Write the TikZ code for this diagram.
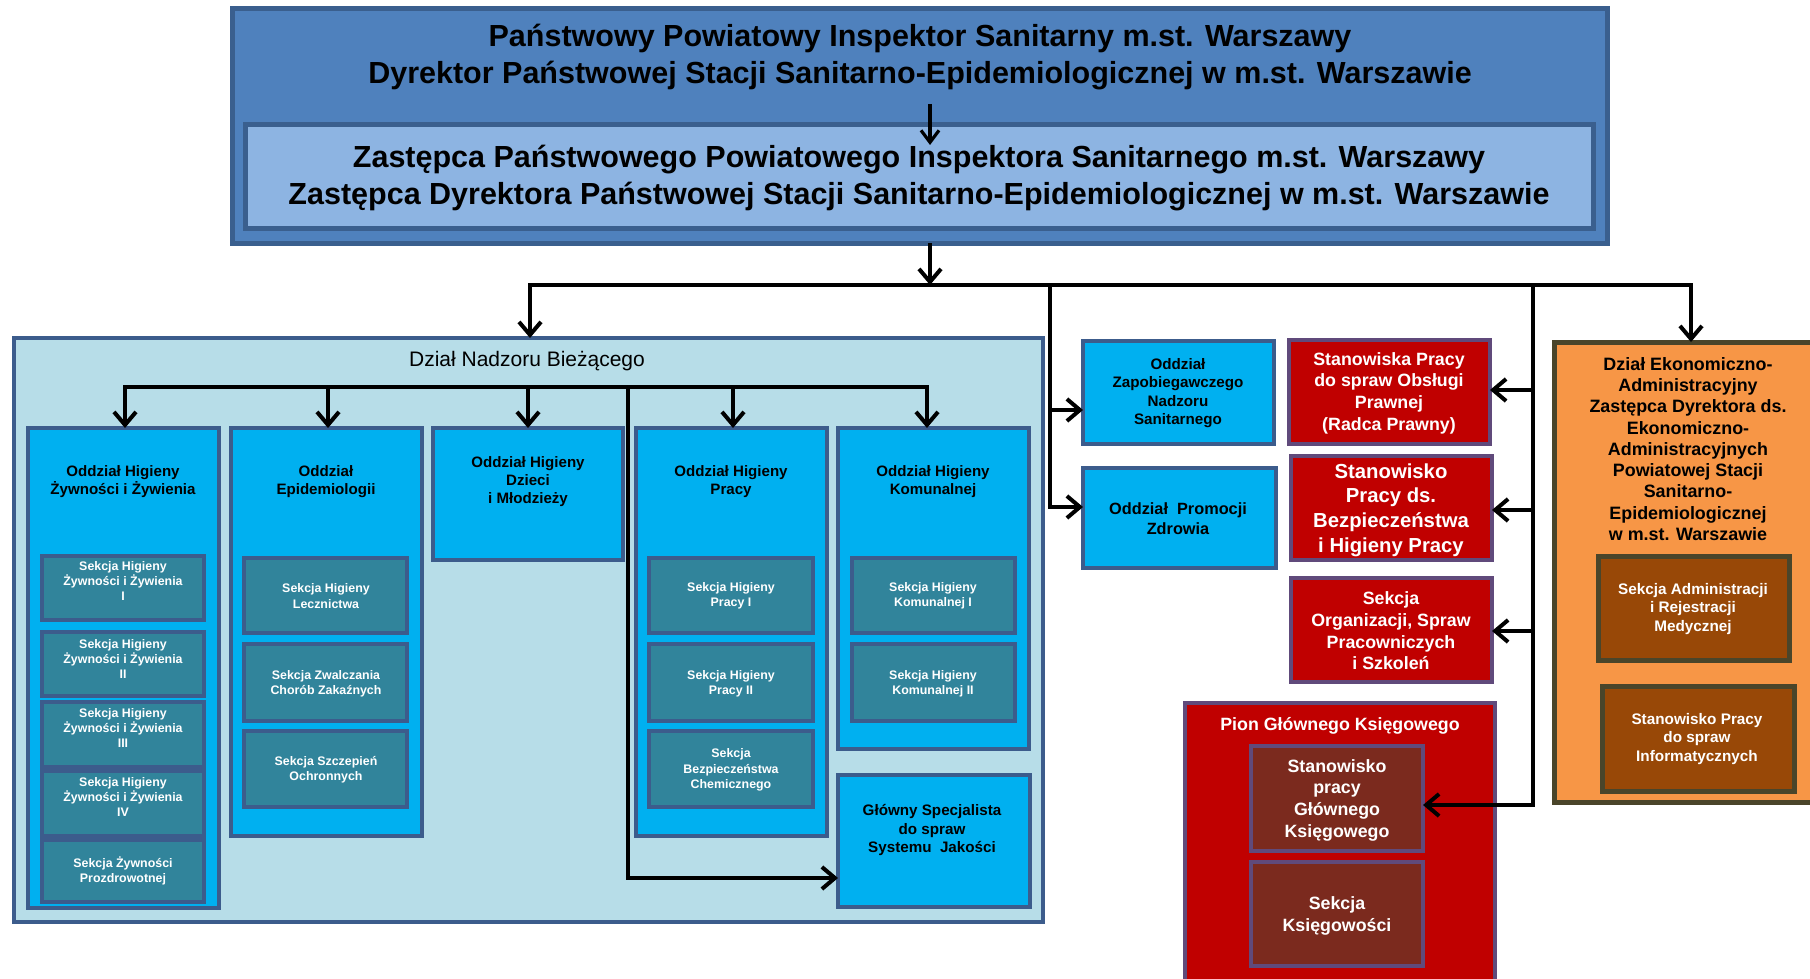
\documentclass[tikz,border=0pt]{standalone}
\usepackage{fontspec}
\setmainfont{Liberation Sans}
\usetikzlibrary{arrows.meta}
\definecolor{topfill}{HTML}{4F81BD}
\definecolor{topdraw}{HTML}{3A5F8E}
\definecolor{innerfill}{HTML}{8DB4E2}
\definecolor{nadzfill}{HTML}{B7DDE8}
\definecolor{oddfill}{HTML}{00B0F0}
\definecolor{sekfill}{HTML}{31849B}
\definecolor{bluedraw}{HTML}{3C5C8C}
\definecolor{redfill}{HTML}{C00000}
\definecolor{reddraw}{HTML}{604A7B}
\definecolor{darkred}{HTML}{7B2A1E}
\definecolor{orfill}{HTML}{F79646}
\definecolor{ordraw}{HTML}{4A452A}
\definecolor{brfill}{HTML}{984807}
\newcommand\fsz[2]{\fontsize{#1}{#2}\selectfont}
\newcommand\bx[6]{\node[#6, minimum width={#4-#2}, minimum height={#5-#3}] (#1) at ({(#2+#4)/2},{(#3+#5)/2}) {};}
\tikzset{
  box/.style={rectangle, inner sep=0pt, outer sep=0pt, line width=4pt},
  topbox/.style={box, fill=topfill, draw=topdraw, line width=5pt},
  innerbox/.style={box, fill=innerfill, draw=topdraw, line width=5pt},
  nadzbox/.style={box, fill=nadzfill, draw=bluedraw},
  oddbox/.style={box, fill=oddfill, draw=bluedraw, line width=4.5pt},
  sekbox/.style={box, fill=sekfill, draw=bluedraw},
  redbox/.style={box, fill=redfill, draw=reddraw},
  drbox/.style={box, fill=darkred, draw=reddraw},
  orbox/.style={box, fill=orfill, draw=ordraw, line width=5pt},
  brbox/.style={box, fill=brfill, draw=ordraw, line width=5pt},
  txt/.style={inner sep=0pt, outer sep=0pt, align=center},
  toptxt/.style={txt, font=\bfseries\fsz{30.5}{36.5}},
  oddtxt/.style={txt, font=\bfseries\fsz{15.1}{18}},
  sektxt/.style={txt, text=white, font=\bfseries\fsz{12.4}{15.2}},
  redtxt/.style={txt, text=white, font=\bfseries\fsz{17.8}{21.7}},
  ortxt/.style={txt, font=\bfseries\fsz{17.9}{21.25}},
  brtxt/.style={txt, text=white, font=\bfseries\fsz{15.3}{18.5}},
  conn/.style={line width=4pt, black},
  arr/.style={conn, -{Straight Barb[length=13pt,width=22pt]}},
  arrthin/.style={line width=3.2pt, black, -{Straight Barb[length=12pt,width=18pt]}}
}
\begin{document}
\begin{tikzpicture}[x=1pt,y=-1pt]
\useasboundingbox (0,0) rectangle (1810,979);
\clip (0,0) rectangle (1810,979);
% top
\bx{T}{232}{9}{1607}{243}{topbox}
\node[toptxt] (tt) at (920,57) {Państwowy Powiatowy Inspektor Sanitarny m.st. Warszawy\\Dyrektor Państwowej Stacji Sanitarno-Epidemiologicznej w m.st. Warszawie};
\bx{Z}{245}{125}{1593}{228}{innerbox}
\node[toptxt] (zt) at (919,178) {Zastępca Państwowego Powiatowego Inspektora Sanitarnego m.st. Warszawy\\Zastępca Dyrektora Państwowej Stacji Sanitarno-Epidemiologicznej w m.st. Warszawie};
% Dzial Nadzoru
\bx{N}{14}{338}{1043}{922}{nadzbox}
\node[txt, font=\fsz{21}{25}] (Nt) at (527,361) {Dział Nadzoru Bieżącego};
\bx{O1}{28}{428}{219}{908}{oddbox}
\bx{O2}{231}{428}{422}{836}{oddbox}
\bx{O3}{433}{428}{623}{560}{oddbox}
\bx{O4}{636}{428}{827}{836}{oddbox}
\bx{O5}{838}{428}{1029}{749}{oddbox}
\bx{GS}{838}{775}{1030}{907}{oddbox}
\node[oddtxt] (O1t) at (123,482) {Oddział Higieny\\Żywności i Żywienia};
\node[oddtxt] (O2t) at (326,482) {Oddział\\Epidemiologii};
\node[oddtxt] (O3t) at (528,482) {Oddział Higieny\\Dzieci\\i Młodzieży};
\node[oddtxt] (O4t) at (731,482) {Oddział Higieny\\Pracy};
\node[oddtxt] (O5t) at (933,482) {Oddział Higieny\\Komunalnej};
\node[oddtxt, font=\bfseries\fsz{15.2}{18.5}] (GSt) at (932,830) {Główny Specjalista\\do spraw\\Systemu~ Jakości};
% sections O1
\bx{S11}{42}{556}{204}{620}{sekbox}
\bx{S12}{42}{632}{204}{696}{sekbox}
\bx{S13}{42}{702}{204}{767}{sekbox}
\bx{S14}{42}{771}{204}{836}{sekbox}
\bx{S15}{42}{840}{204}{902}{sekbox}
\node[sektxt] (S11t) at (123,581) {Sekcja Higieny\\Żywności i Żywienia\\I};
\node[sektxt] (S12t) at (123,659) {Sekcja Higieny\\Żywności i Żywienia\\II};
\node[sektxt] (S13t) at (123,728) {Sekcja Higieny\\Żywności i Żywienia\\III};
\node[sektxt] (S14t) at (123,797) {Sekcja Higieny\\Żywności i Żywienia\\IV};
\node[sektxt] (S15t) at (123,871) {Sekcja Żywności\\Prozdrowotnej};
% sections O2
\bx{S21}{244}{558}{407}{633}{sekbox}
\bx{S22}{244}{644}{407}{721}{sekbox}
\bx{S23}{244}{731}{407}{807}{sekbox}
\node[sektxt] (S21t) at (326,596) {Sekcja Higieny\\Lecznictwa};
\node[sektxt] (S22t) at (326,684) {Sekcja Zwalczania\\Chorób Zakaźnych};
\node[sektxt] (S23t) at (326,770) {Sekcja Szczepień\\Ochronnych};
% sections O4
\bx{S41}{649}{558}{813}{633}{sekbox}
\bx{S42}{649}{644}{813}{721}{sekbox}
\bx{S43}{649}{731}{813}{807}{sekbox}
\node[sektxt] (S41t) at (731,596) {Sekcja Higieny\\Pracy I};
\node[sektxt] (S42t) at (731,684) {Sekcja Higieny\\Pracy II};
\node[sektxt] (S43t) at (731,770) {Sekcja\\Bezpieczeństwa\\Chemicznego};
% sections O5
\bx{S51}{852}{558}{1015}{633}{sekbox}
\bx{S52}{852}{644}{1015}{721}{sekbox}
\node[sektxt] (S51t) at (933,596) {Sekcja Higieny\\Komunalnej I};
\node[sektxt] (S52t) at (933,684) {Sekcja Higieny\\Komunalnej II};
% right blue
\bx{Zap}{1083}{341}{1274}{444}{oddbox}
\bx{Prom}{1083}{468}{1276}{568}{oddbox}
\node[oddtxt, font=\bfseries\fsz{15.2}{18.3}] (Zapt) at (1178,393) {Oddział\\Zapobiegawczego\\Nadzoru\\Sanitarnego};
\node[oddtxt, font=\bfseries\fsz{16.3}{20}] (Promt) at (1178,519) {Oddział~ Promocji\\Zdrowia};
% red
\bx{Rad}{1289}{340}{1490}{444}{redbox}
\bx{BHP}{1291}{456}{1492}{560}{redbox}
\bx{Org}{1291}{578}{1492}{682}{redbox}
\node[redtxt] (Radt) at (1389,393) {Stanowiska Pracy\\do spraw Obsługi\\Prawnej\\(Radca Prawny)};
\node[redtxt, font=\bfseries\fsz{20.3}{24.8}] (BHPt) at (1391,510) {Stanowisko\\Pracy ds.\\Bezpieczeństwa\\i Higieny Pracy};
\node[redtxt] (Orgt) at (1391,631) {Sekcja\\Organizacji, Spraw\\Pracowniczych\\i Szkoleń};
\bx{Pion}{1185}{703}{1495}{1000}{redbox}
\node[redtxt] (Piont) at (1340,726) {Pion Głównego Księgowego};
\bx{GK}{1251}{746}{1423}{851}{drbox}
\bx{SK}{1251}{862}{1423}{966}{drbox}
\node[redtxt] (GKt) at (1337,800) {Stanowisko\\pracy\\Głównego\\Księgowego};
\node[redtxt] (SKt) at (1337,916) {Sekcja\\Księgowości};
% orange
\bx{E}{1554}{342}{1822}{802}{orbox}
\node[ortxt] (Et) at (1688,449) {Dział Ekonomiczno-\\Administracyjny\\Zastępca Dyrektora ds.\\Ekonomiczno-\\Administracyjnych\\Powiatowej Stacji\\Sanitarno-\\Epidemiologicznej\\w m.st. Warszawie};
\bx{SA}{1598}{556}{1789}{660}{brbox}
\bx{SI}{1602}{686}{1794}{791}{brbox}
\node[brtxt] (SAt) at (1693,609) {Sekcja Administracji\\i Rejestracji\\Medycznej};
\node[brtxt] (SIt) at (1697,739) {Stanowisko Pracy\\do spraw\\Informatycznych};
% connectors
\coordinate (ta) at (930,104);
\coordinate (tb) at (930,145);
\draw[arrthin] (ta) -- (tb);
\coordinate (hub) at (930,285);
\coordinate (hl) at (530,285);
\coordinate (hr) at (1691,285);
\draw[arr] (T.south -| hub) -- (hub);
\draw[arr] (hr) -- (hl) -- (hl |- N.north);
\draw[arr] (hl) -- (hr) -- (hr |- E.north);
\coordinate (v1) at (1050,285);
\coordinate (v1a) at (1050,410);
\coordinate (v1b) at (1050,507);
\draw[arr] (v1) -- (v1b) -- (v1b -| Prom.west);
\draw[arr] (v1a) -- (v1a -| Zap.west);
\coordinate (v2) at (1533,285);
\coordinate (v2a) at (1533,390);
\coordinate (v2b) at (1533,510);
\coordinate (v2c) at (1533,631);
\coordinate (v2d) at (1533,805);
\draw[arr] (v2) -- (v2d) -- (v2d -| GK.east);
\draw[arr] (v2a) -- (v2a -| Rad.east);
\draw[arr] (v2b) -- (v2b -| BHP.east);
\draw[arr] (v2c) -- (v2c -| Org.east);
% inside Dzial Nadzoru
\coordinate (nl) at (125,387);
\coordinate (n2) at (328,387);
\coordinate (n3) at (528,387);
\coordinate (ns) at (628,387);
\coordinate (n4) at (733,387);
\coordinate (nr) at (927,387);
\coordinate (nsb) at (628,878);
\draw[arr] (nr) -- (nl) -- (nl |- O1.north);
\draw[arr] (nl) -- (nr) -- (nr |- O5.north);
\draw[arr] (n2) -- (n2 |- O2.north);
\draw[arr] (n3) -- (n3 |- O3.north);
\draw[arr] (n4) -- (n4 |- O4.north);
\draw[arr] (ns) -- (nsb) -- (nsb -| GS.west);
\end{tikzpicture}
\end{document}
